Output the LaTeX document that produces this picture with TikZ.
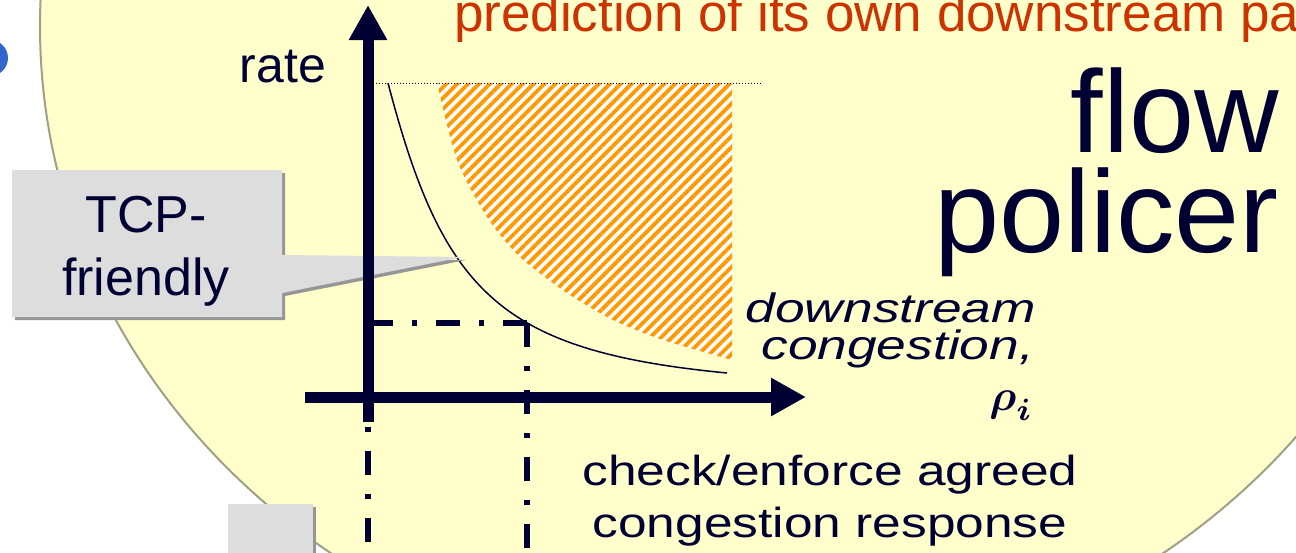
\documentclass[tikz,border=0pt]{standalone}
\usepackage{amsmath}
\usepackage{fontspec}
\setmainfont{Liberation Sans}
\newfontfamily\stretchA[FakeStretch=1.225]{Liberation Sans}
\newfontfamily\stretchB[FakeStretch=1.3]{Liberation Sans}
\usetikzlibrary{arrows.meta,patterns.meta}
\definecolor{navy}{RGB}{0,0,51}
\definecolor{bubblefill}{RGB}{255,255,204}
\definecolor{bubbleedge}{RGB}{160,160,135}
\definecolor{redorange}{RGB}{204,51,0}
\definecolor{hatchorange}{RGB}{255,153,0}
\definecolor{boxgray}{RGB}{221,221,221}
\definecolor{shadowgray}{RGB}{150,150,150}
\definecolor{blueblob}{RGB}{51,102,204}
\tikzset{
  axisline/.style={draw=navy, line width=11pt, -{Triangle[length=35pt,width=36pt]}},
  dashdotline/.style={draw=navy, line width=5.5pt, dash pattern=on 24pt off 19pt on 5pt off 19pt},
  curveline/.style={draw=navy, line width=1.5pt},
  hatcharea/.style={preaction={fill=white}, pattern={Lines[angle=45,distance=7.7pt,line width=3.8pt]}, pattern color=hatchorange},
  calloutbox/.style={fill=boxgray},
  calloutshadow/.style={fill=shadowgray},
  lbl/.style={inner sep=0pt, outer sep=0pt, text=navy},
}
\begin{document}
\begin{tikzpicture}[x=1pt,y=-1pt]
\useasboundingbox (0,0) rectangle (1296,552);
\clip (0,0) rectangle (1296,552);
\fill[white] (0,0) rectangle (1296,552);
% big bubble
\draw[fill=bubblefill, draw=bubbleedge, line width=2pt] (747,26) ellipse [x radius=707pt, y radius=652pt];
% blue blob at left edge
\fill[blueblob] (-10,58) circle [radius=18pt];
% key coordinates
\coordinate (ytop) at (368,5);
\coordinate (ybot) at (368,422);
\coordinate (xleft) at (305,397);
\coordinate (xright) at (806,397);
\coordinate (dotL) at (376,83);
\coordinate (dotR) at (763,83);
\coordinate (corner) at (527,323);
\coordinate (cornerL) at (374,323);
\coordinate (cornerD) at (527,560);
\coordinate (leftT) at (368,317);
\coordinate (leftB) at (368,560);
\coordinate (tcpS) at (388,83);
\coordinate (tcpE) at (727,373);
% hatched region
\path[hatcharea] (437,83) -- (732,83) -- plot[smooth] coordinates {(732,360) (663,340) (613,320) (567,293) (520,257) (487,217) (457,160) (437,83)} -- cycle;
% dotted max-rate line
\draw[black, line width=1pt, dash pattern=on 1pt off 2pt] (dotL) -- (dotR);
% TCP-friendly curve
\draw[curveline] (tcpS) .. controls (443,293) and (500,351) .. (tcpE);
% callout
\fill[calloutshadow] (15,173) -- (285,173) -- (285,258) -- (466,260) -- (285,296) -- (285,320) -- (15,320) -- cycle;
\fill[calloutbox] (12,170) -- (282,170) -- (282,255) -- (463,257) -- (282,293) -- (282,317) -- (12,317) -- cycle;
\node[lbl, anchor=base, font=\fontsize{52}{60}\selectfont] (tcp1) at (146,232) {TCP-};
\node[lbl, anchor=base, font=\fontsize{52}{60}\selectfont] (tcp2) at (146,295) {friendly};
% bottom-left grey box
\fill[calloutshadow] (231,507) rectangle (316,563);
\fill[calloutbox] (228,504) rectangle (313,560);
% dash-dot guides
\draw[dashdotline] (corner) -- (cornerL);
\draw[dashdotline] (corner) -- (cornerD);
\draw[dashdotline] (leftT) -- (leftB);
% axes
\draw[axisline] (ybot) -- (ytop);
\draw[axisline] (xleft) -- (xright);
% labels
\node[lbl, anchor=base west, text=redorange, font=\fontsize{53}{60}\selectfont] (pred) at (454,31) {prediction of its own downstream pa};
\node[lbl, anchor=base east, font=\fontsize{50}{60}\selectfont] (rate) at (326,82) {rate};
\node[lbl, anchor=base east, font=\fontsize{117}{120}\selectfont] (flow) at (1279,152) {flow};
\node[lbl, anchor=base east, font=\fontsize{117}{120}\selectfont] (policer) at (1279,252) {policer};
\node[lbl, anchor=base east, font=\stretchB\itshape\fontsize{41}{44}\selectfont] (ds1) at (1036,322) {downstream};
\node[lbl, anchor=base east, font=\stretchB\itshape\fontsize{41}{44}\selectfont] (ds2) at (1034,359) {congestion,};
\node[lbl, anchor=base east] (rho) at (1033,410) {\scalebox{4.4}{$\boldsymbol{\rho}_{\boldsymbol{i}}$}};
\node[lbl, anchor=base, font=\stretchA\fontsize{42}{50}\selectfont] (chk1) at (830,485) {check/enforce agreed};
\node[lbl, anchor=base, font=\stretchA\fontsize{42}{50}\selectfont] (chk2) at (830,537) {congestion response};
\end{tikzpicture}
\end{document}
